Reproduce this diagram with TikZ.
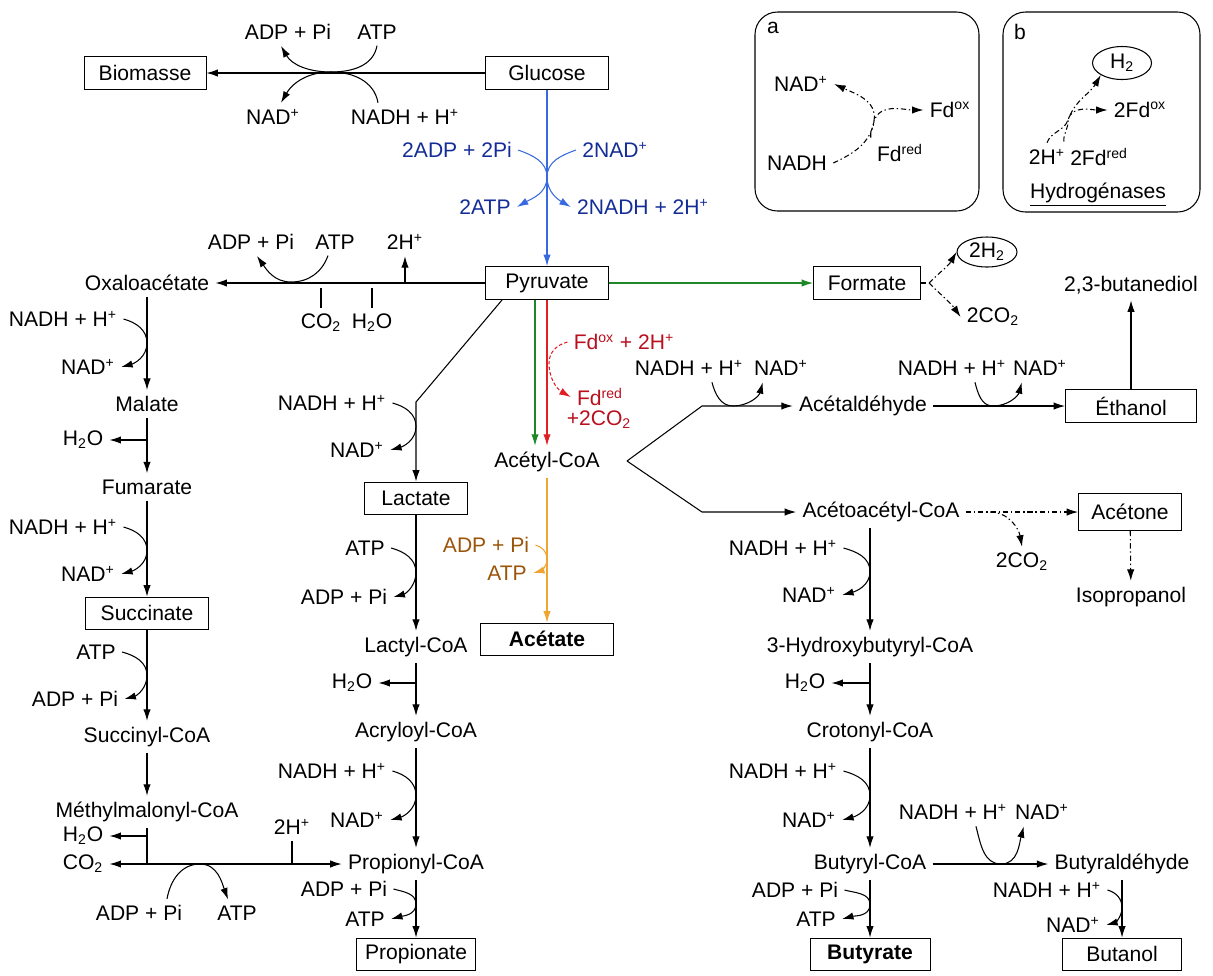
\documentclass[tikz,border=0pt]{standalone}
\usepackage{fontspec}
\setmainfont{Liberation Sans}
\usetikzlibrary{calc}
\usetikzlibrary{arrows.meta}
\usetikzlibrary{shapes.geometric}

\definecolor{bleu}{RGB}{55,105,225}
\definecolor{bleutxt}{RGB}{20,45,150}
\definecolor{vert}{RGB}{30,135,40}
\definecolor{rouge}{RGB}{225,30,35}
\definecolor{rougetxt}{RGB}{185,15,30}
\definecolor{orangel}{RGB}{240,165,50}
\definecolor{orangetxt}{RGB}{155,85,10}

\newcommand{\nadh}{NADH + H\textsuperscript{+}}
\newcommand{\nadp}{NAD\textsuperscript{+}}

\tikzset{
    fl/.style={-{Latex[length=6.5pt,width=4.2pt]}},
    boite/.style={draw, line width=0.5pt, minimum height=0.66cm, inner sep=2pt},
    boiteg/.style={boite, font=\bfseries\fontsize{12}{14}\selectfont},
    tiret/.style={dash pattern=on 3pt off 1.6pt on 0.8pt off 1.6pt},
}

\begin{document}
\begin{tikzpicture}[x=0.02cm,y=0.02cm,line width=0.6pt,
    every node/.style={font=\fontsize{12}{14}\selectfont}]
\useasboundingbox (0,0) rectangle (1213,-975);

\coordinate (tg) at (331,-72);
\coordinate (tb) at (547,-177);
\coordinate (to2) at (291,-282);
\coordinate (tk) at (0,-288);
\coordinate (kl) at (416,-402);
\coordinate (tr) at (549,-363);
\coordinate (kv) at (627,-461);
\coordinate (ku) at (702,-406);
\coordinate (kd) at (702,-512);
\coordinate (t6) at (733,-406);
\coordinate (t7) at (993,-406);
\coordinate (t10) at (1001,-864);
\coordinate (tm) at (200,-864);
\coordinate (fk) at (929,-283);
\coordinate (fk2) at (990,-512);
\coordinate (ja) at (874,-121);
\coordinate (jb) at (1068,-120);

\newcommand{\cofv}[4][black]{
    \draw[fl,#1] (#3.east) to[out=-15,in=90] ($(#2 |- #3)!0.5!(#2 |- #4)$) to[out=-90,in=15] (#4.east);
}

\newcommand{\cofh}[3]{
    \draw[fl] ([xshift=-0.75cm]#2.south east) to[out=-75,in=180] (#1) to[out=0,in=-105] ([xshift=0.3cm]#3.south west);
}

% haut
\node[boite,minimum width=2.44cm] (bio) at (145,-73) {Biomasse};
\node[boite,minimum width=2.46cm] (glu) at (547,-73) {Glucose};
\node (adp1) at (288,-32) {ADP + Pi};
\node (atp1) at (377,-32) {ATP};
\node (nad1) at (273,-117) {\nadp};
\node (nadh1) at (405,-117) {\nadh};
\node[bleutxt] (badp) at (457,-150) {2ADP + 2Pi};
\node[bleutxt] (bnad) at (615,-150) {2NAD\textsuperscript{+}};
\node[bleutxt] (batp) at (485,-207) {2ATP};
\node[bleutxt] (bnadh) at (643,-207) {2NADH + 2H\textsuperscript{+}};

% pyruvate
\node[boite,minimum width=2.46cm] (pyr) at (547,-283) {Pyruvate};
\node (oxa) at (147,-283) {Oxaloacétate};
\node (adp2) at (251,-242) {ADP + Pi};
\node (atp2) at (335,-242) {ATP};
\node (hp1) at (405,-242) {2H\textsuperscript{+}};
\node (co2a) at (321,-323) {CO\textsubscript{2}};
\node (h2oa) at (372,-323) {H\textsubscript{2}O};
\node[boite,minimum width=2.14cm] (form) at (867,-283) {Formate};
\node[draw,ellipse,minimum width=1.2cm,minimum height=0.6cm,inner sep=0pt] (h2f) at (987,-252) {2H\textsubscript{2}};
\node (co2f) at (993,-317) {2CO\textsubscript{2}};
\node (butd) at (1131,-285) {2,3-butanediol};

% succinate
\node (nadh2) at (63,-319) {\nadh};
\node (nad2) at (88,-367) {\nadp};
\node (mal) at (147,-404) {Malate};
\node (h2ob) at (83,-440) {H\textsubscript{2}O};
\node (fum) at (147,-487) {Fumarate};
\node (nadh3) at (63,-527) {\nadh};
\node (nad3) at (88,-574) {\nadp};
\node[boite,minimum width=2.46cm,minimum height=0.64cm] (succ) at (147,-613) {Succinate};
\node (atp3) at (96,-652) {ATP};
\node (adp3) at (75,-699) {ADP + Pi};
\node (sucoa) at (147,-737) {Succinyl-CoA};
\node (mmcoa) at (147,-812) {Méthylmalonyl-CoA};
\node (h2oc) at (83,-836) {H\textsubscript{2}O};
\node (co2b) at (83,-864) {CO\textsubscript{2}};
\node (hp2) at (292,-827) {2H\textsuperscript{+}};
\node (adp4) at (139,-913) {ADP + Pi};
\node (atp4) at (237,-913) {ATP};

% lactate
\node (nadh4) at (332,-403) {\nadh};
\node (nad4) at (357,-450) {\nadp};
\node[boite,minimum width=2.06cm,minimum height=0.64cm] (lact) at (416,-498) {Lactate};
\node (atp5) at (365,-548) {ATP};
\node (adp5) at (344,-597) {ADP + Pi};
\node (lacoa) at (416,-647) {Lactyl-CoA};
\node (h2od) at (352,-683) {H\textsubscript{2}O};
\node (acrcoa) at (416,-732) {Acryloyl-CoA};
\node (nadh5) at (332,-771) {\nadh};
\node (nad5) at (357,-820) {\nadp};
\node (procoa) at (416,-864) {Propionyl-CoA};
\node (adp6) at (344,-889) {ADP + Pi};
\node (atp6) at (365,-919) {ATP};
\node[boite,minimum width=2.38cm,minimum height=0.64cm] (propio) at (416,-954) {Propionate};

% acetyl-CoA
\node[rougetxt] (fdox) at (624,-342) {Fd\textsuperscript{ox} + 2H\textsuperscript{+}};
\node[rougetxt] (fdred) at (600,-397) {Fd\textsuperscript{red}};
\node[rougetxt] (co2r) at (599,-420) {+2CO\textsubscript{2}};
\node (acoa) at (547,-462) {Acétyl-CoA};
\node[orangetxt] (oadp) at (486,-545) {ADP + Pi};
\node[orangetxt] (oatp) at (507,-573) {ATP};
\node[boiteg,minimum width=2.66cm,minimum height=0.64cm] (acet) at (547,-639) {Acétate};

% ethanol, butyrate
\node (nadh6) at (689,-368) {\nadh};
\node (nad6) at (781,-368) {\nadp};
\node (ald) at (863,-406) {Acétaldéhyde};
\node (nadh7) at (952,-368) {\nadh};
\node (nad7) at (1040,-368) {\nadp};
\node[boite,minimum width=2.62cm] (eth) at (1131,-406) {Éthanol};
\node (acac) at (881,-512) {Acétoacétyl-CoA};
\node (co2g) at (1022,-562) {2CO\textsubscript{2}};
\node[boite,minimum width=2.06cm,minimum height=0.74cm] (aceto) at (1130,-512) {Acétone};
\node (iso) at (1131,-597) {Isopropanol};
\node (nadh8) at (783,-548) {\nadh};
\node (nad8) at (809,-595) {\nadp};
\node (hbcoa) at (870,-647) {3-Hydroxybutyryl-CoA};
\node (h2oe) at (805,-683) {H\textsubscript{2}O};
\node (crcoa) at (870,-732) {Crotonyl-CoA};
\node (nadh9) at (783,-771) {\nadh};
\node (nad9) at (809,-820) {\nadp};
\node (bucoa) at (870,-864) {Butyryl-CoA};
\node (adp7) at (795,-890) {ADP + Pi};
\node (atp7) at (816,-919) {ATP};
\node[boiteg,minimum width=2.4cm,minimum height=0.64cm] (butyr) at (870,-954) {Butyrate};
\node (nadh10) at (953,-812) {\nadh};
\node (nad10) at (1042,-812) {\nadp};
\node (bual) at (1122,-864) {Butyraldéhyde};
\node (nadh11) at (1047,-890) {\nadh};
\node (nad11) at (1073,-925) {\nadp};
\node[boite,minimum width=2.38cm,minimum height=0.64cm] (buta) at (1122,-954) {Butanol};

% encadres a et b
\draw[rounded corners=0.45cm] (755,-12) rectangle (979,-211);
\node (la) at (773,-28) {a};
\node (nadpa) at (801,-84) {\nadp};
\node (fdoxa) at (950,-110) {Fd\textsuperscript{ox}};
\node (nadha) at (797,-163) {NADH};
\node (fdreda) at (900,-153) {Fd\textsuperscript{red}};
\draw[fl,tiret] (nadha.east) to[out=25,in=-100] (ja) to[out=80,in=-25] (nadpa.east);
\draw[fl,tiret] (fdreda.north west) to[out=100,in=-90] (ja) to[out=70,in=180] (fdoxa.west);

\draw[rounded corners=0.45cm] (1003,-12) rectangle (1200,-212);
\node (lb) at (1020,-32) {b};
\node[draw,ellipse,minimum width=1.18cm,minimum height=0.66cm,inner sep=0pt] (h2b) at (1122,-63) {H\textsubscript{2}};
\node (fdoxb) at (1140,-110) {2Fd\textsuperscript{ox}};
\node (hpb) at (1047,-157) {2H\textsuperscript{+}};
\node (fdredb) at (1099,-157) {2Fd\textsuperscript{red}};
\node (hyd) at (1098,-195) {\underline{Hydrogénases}};
\draw[fl,tiret] (hpb.north) to[out=70,in=-110] (jb) to[out=70,in=-120] (h2b.south west);
\draw[fl,tiret] (fdredb.north west) to[out=95,in=-85] (jb) to[out=75,in=180] (fdoxb.west);

% glucose
\draw[fl] (glu)--(bio);
\draw[fl] (atp1.south) to[out=-100,in=0] (tg) to[out=180,in=-60] ([xshift=-0.14cm]adp1.south);
\draw[fl] ([xshift=-0.54cm]nadh1.north) to[out=100,in=0] (tg) to[out=180,in=60] ([xshift=0.16cm]nad1.north);
\draw[fl,bleu] (glu)--(pyr);
\draw[fl,bleu] (badp.east) to[out=-20,in=90] (tb) to[out=-90,in=30] (batp.east);
\draw[fl,bleu] (bnad.west) to[out=200,in=90] (tb) to[out=-90,in=150] (bnadh.west);

% pyruvate
\draw[fl] (pyr)--(oxa);
\draw[fl] ([xshift=-0.14cm]atp2.south) to[out=-110,in=0] (to2) to[out=180,in=-55] ([xshift=0.12cm]adp2.south);
\draw[fl] (hp1 |- oxa)--(hp1);
\draw (co2a.north)--(co2a |- tk);
\draw (h2oa.north)--(h2oa |- tk);
\draw[fl,vert] (pyr)--(form);
\draw[tiret] (form.east)--(fk);
\draw[fl,tiret] (fk) to[out=45,in=-120] (h2f.west);
\draw[fl,tiret] (fk) to[out=-45,in=125] (co2f.west);

% voie succinate
\draw[fl] (oxa)--(mal);
\cofv{oxa}{nadh2}{nad2}
\draw[fl] (mal)--(fum);
\draw[fl] (mal |- h2ob)--(h2ob);
\draw[fl] (fum)--(succ);
\cofv{fum}{nadh3}{nad3}
\draw[fl] (succ)--(sucoa);
\cofv{succ}{atp3}{adp3}
\draw[fl] (sucoa)--(mmcoa);
\draw[fl] (mmcoa.south) |- (procoa);
\draw[fl] (mmcoa |- h2oc)--(h2oc);
\draw[fl] (mmcoa |- co2b)--(co2b);
\draw (hp2.south)--(hp2 |- procoa);
\draw[fl] ([xshift=0.56cm]adp4.north) to[out=80,in=180] (tm) to[out=0,in=110] ([xshift=-0.18cm]atp4.north);

% voie lactate
\draw[fl] ([xshift=0.34cm]pyr.south west)--(kl)--(lact);
\cofv{lact}{nadh4}{nad4}
\draw[fl] (lact)--(lacoa);
\cofv{lact}{atp5}{adp5}
\draw[fl] (lacoa)--(acrcoa);
\draw[fl] (lacoa |- h2od)--(h2od);
\draw[fl] (acrcoa)--(procoa);
\cofv{acrcoa}{nadh5}{nad5}
\draw[fl] (procoa)--(propio);
\cofv{procoa}{adp6}{atp6}

% acetyl-CoA
\draw[fl,vert] ([xshift=-0.24cm]pyr.south)--([xshift=-0.24cm]acoa.north);
\draw[fl,rouge] (pyr.south)--(acoa.north);
\draw[fl,rouge,dash pattern=on 2pt off 1.2pt] (fdox.west) to[out=195,in=90] (tr) to[out=-90,in=150] (fdred.west);
\draw[fl,orangel] (acoa)--(acet);
\cofv[orangel]{acoa}{oadp}{oatp}

% ethanol, acetone, butyrate
\draw[fl] (kv)--(ku)--(ald);
\draw[fl] (kv)--(kd)--(acac);
\cofh{t6}{nadh6}{nad6}
\draw[fl] (ald)--(eth);
\cofh{t7}{nadh7}{nad7}
\draw[fl] (eth)--(butd);
\draw[fl,tiret] (acac)--(aceto);
\draw[fl,tiret] (fk2) to[out=0,in=100] (co2g.north);
\draw[fl,tiret] (aceto)--(iso);
\draw[fl] (acac.south -| hbcoa)--(hbcoa);
\cofv{hbcoa}{nadh8}{nad8}
\draw[fl] (hbcoa)--(crcoa);
\draw[fl] (hbcoa |- h2oe)--(h2oe);
\draw[fl] (crcoa)--(bucoa);
\cofv{crcoa}{nadh9}{nad9}
\draw[fl] (bucoa)--(butyr);
\cofv{bucoa}{adp7}{atp7}
\draw[fl] (bucoa)--(bual);
\cofh{t10}{nadh10}{nad10}
\draw[fl] (bual)--(buta);
\cofv{bual}{nadh11}{nad11}
\end{tikzpicture}
\end{document}
